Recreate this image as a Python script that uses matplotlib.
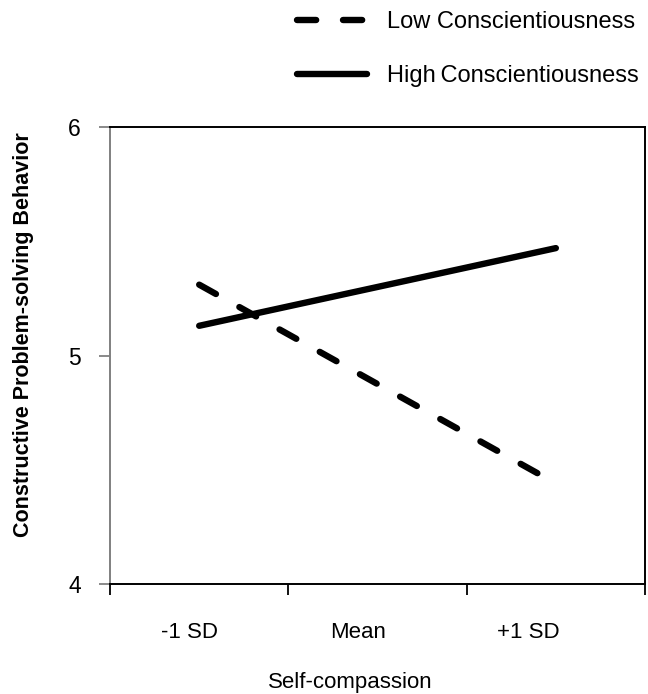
import numpy as np
import matplotlib
matplotlib.use("Agg")
import matplotlib.pyplot as plt
import matplotlib.transforms as mtransforms

plt.rcParams['font.family'] = ['Liberation Sans', 'DejaVu Sans']

# ==================================================
# DATA
# ==================================================

categories = ['-1 SD', 'Mean', '+1 SD']
low_consc = [5.31, 4.875, 4.44]
high_consc = [5.13, 5.30, 5.47]
y_ticks = [4, 5, 6]

# ==================================================
# FIGURE
# ==================================================

fig = plt.figure(figsize=(6.48, 6.94), dpi=100)
ax = fig.add_axes([0.1698, 0.1585, 0.8256, 0.6585])

x = np.arange(len(categories))

low_line, = ax.plot(x, low_consc, color='black', linewidth=4.6,
                    linestyle=(0, (3.0, 4.2)), dash_capstyle='round',
                    label='Low Conscientiousness')
high_line, = ax.plot(x, high_consc, color='black', linewidth=4.6,
                     solid_capstyle='round', label='High\u2009Conscientiousness')

ax.set_xlim(-0.5, len(categories) - 0.5)
ax.set_ylim(4, 6)

# category-style axis: ticks between categories, labels at centres
ax.set_xticks(np.arange(-0.5, len(categories), 1.0))
ax.set_xticklabels([])
ax.set_xticks(x, minor=True)
ax.set_xticklabels(categories, minor=True, fontsize=16)
ax.tick_params(axis='x', which='major', direction='out', length=8,
               width=1.3, color='black')
ax.tick_params(axis='x', which='minor', length=0, pad=27)

# labels in the source sit a bit left of the category centres
offsets = [-10, -19, -28]
for lab, dx in zip(ax.get_xticklabels(minor=True), offsets):
    lab.set_transform(lab.get_transform() +
                      mtransforms.ScaledTranslation(dx / 100, 0, fig.dpi_scale_trans))

ax.set_yticks(y_ticks)
ax.set_yticklabels([str(v) for v in y_ticks], fontsize=16.5)
ax.tick_params(axis='y', direction='out', length=8, width=1.3,
               color='#808080', pad=13)

for side in ['top', 'right', 'bottom']:
    ax.spines[side].set_color('black')
    ax.spines[side].set_linewidth(1.4)
ax.spines['left'].set_color('#808080')
ax.spines['left'].set_linewidth(1.4)

ax.set_ylabel('Constructive Problem-solving Behavior', fontsize=15.5,
              fontweight='bold')
ax.yaxis.set_label_coords(-0.142, 0.545)

ax.set_xlabel('Self-compassion', fontsize=16)
ax.xaxis.set_label_coords(0.449, -0.192)

fig.legend(handles=[low_line, high_line], loc='upper left',
           bbox_to_anchor=(0.4475, 0.994), frameon=False, fontsize=17,
           handlelength=2.97, handletextpad=0.85, labelspacing=1.35,
           borderpad=0.3, borderaxespad=0)

plt.savefig("out.png", dpi=100)
